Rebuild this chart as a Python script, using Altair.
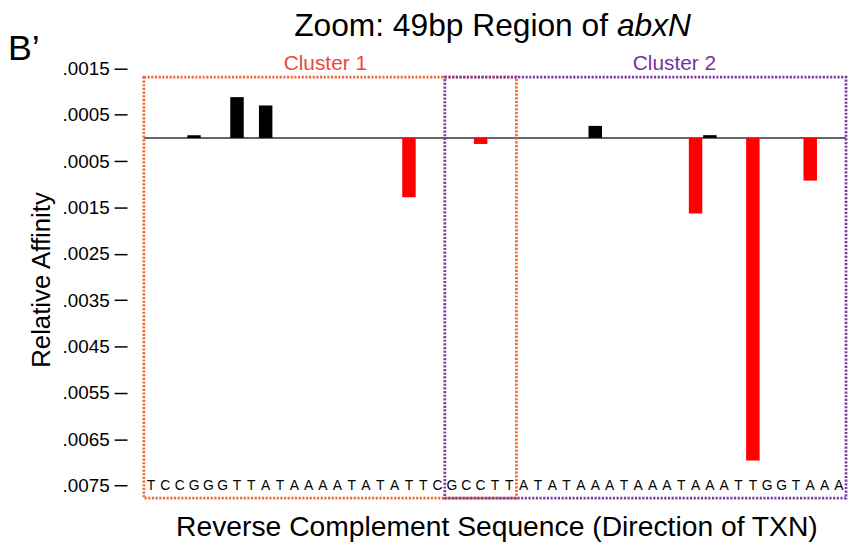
import altair as alt
import numpy as np
import pandas as pd

# ---------------- data ----------------
sequence = list("TCCGGGTTATAAAATATATTCGCCTTATATAAATAAATAAATTGGTAAA")
bar_index = [3, 6, 8, 18, 23, 31, 38, 39, 42, 46]
bar_value = [0.00006, 0.00088, 0.00070, -0.00128, -0.00013,
             0.00026, -0.00163, 0.00006, -0.00696, -0.00092]
cluster_names = ["Cluster 1", "Cluster 2"]
cluster_start = [0, 21]
cluster_end = [26, 49]
cluster_colors = ["#F26B3A", "#7B3FA0"]
cluster_text_colors = ["#F0463A", "#7434A0"]
y_ticks = [0.0015, 0.0005, -0.0005, -0.0015, -0.0025, -0.0035,
           -0.0045, -0.0055, -0.0065, -0.0075]

FONT = "Liberation Sans"
W, H = 708, 438
BOX_TOP = 0.00131

xscale = alt.Scale(domain=[0, len(sequence)], nice=False, zero=False)
yscale = alt.Scale(domain=[-0.00777, 0.0016], nice=False, zero=False)

# ---------------- bars ----------------
bars_df = pd.DataFrame({"pos": bar_index, "value": bar_value})
bars_df["x0"] = bars_df["pos"] + 0.03
bars_df["x1"] = bars_df["pos"] + 0.97
bars_df["zero"] = 0.0
bars_df["color"] = np.where(bars_df["value"] >= 0, "#000000", "#FF0000")

bars = alt.Chart(bars_df).mark_rect().encode(
    x=alt.X("x0:Q", scale=xscale, axis=None),
    x2="x1:Q",
    y=alt.Y(
        "value:Q",
        scale=yscale,
        axis=alt.Axis(
            values=y_ticks,
            labelExpr="substring(format(abs(datum.value), '.4f'), 1)",
            grid=False,
            domain=False,
            tickSize=13,
            tickWidth=1.5,
            tickColor="black",
            offset=17,
            labelPadding=5,
            labelFontSize=19,
            labelFont=FONT,
            labelColor="black",
            title=None,
        ),
    ),
    y2="zero:Q",
    color=alt.Color("color:N", scale=None),
)

# ---------------- zero line ----------------
zero_line = alt.Chart(pd.DataFrame({"z": [0.0]})).mark_rule(
    color="#333333", strokeWidth=1.5
).encode(y=alt.Y("z:Q", scale=yscale))

# ---------------- sequence letters ----------------
letters_df = pd.DataFrame({"letter": sequence})
letters_df["xc"] = np.arange(len(sequence)) + 0.5
letters_df["yl"] = -0.0075
letters = alt.Chart(letters_df).mark_text(
    font=FONT, fontSize=14, color="black", baseline="middle", align="center"
).encode(
    x=alt.X("xc:Q", scale=xscale, axis=None),
    y=alt.Y("yl:Q", scale=yscale),
    text="letter:N",
)

# ---------------- cluster boxes ----------------
def cluster_box(i):
    df = pd.DataFrame({"start": [cluster_start[i]], "end": [cluster_end[i]],
                       "top": [BOX_TOP]})
    return alt.Chart(df).mark_rect(
        fill="transparent",
        stroke=cluster_colors[i],
        strokeWidth=2.8,
        strokeDash=[2.2, 1.5],
    ).encode(
        x=alt.X("start:Q", scale=xscale, axis=None),
        x2="end:Q",
        y=alt.Y("top:Q", scale=yscale),
        y2=alt.value(H),
    )


def label(txt, x, y, size, color="black", align="center", style="normal",
          angle=0, baseline="alphabetic"):
    return alt.Chart(pd.DataFrame({"t": [txt]})).mark_text(
        font=FONT, fontSize=size, color=color, align=align, fontStyle=style,
        angle=angle, baseline=baseline,
    ).encode(text="t:N", x=alt.value(x), y=alt.value(y))


annotations = [
    label(cluster_names[0], 183, 6, 21, cluster_text_colors[0]),
    label(cluster_names[1], 535, 6, 21, cluster_text_colors[1]),
    label("Zoom: 49bp Region of", 468, -28, 32, align="right"),
    label("abxN", 477, -28, 32, align="left", style="italic"),
    label("B\u2019", -137, -4, 36, align="left"),
    label("Relative Affinity", -103, 218, 26, angle=270, baseline="middle"),
    label("Reverse Complement Sequence (Direction of TXN)", 356, 476, 28.5),
]

chart = alt.layer(
    zero_line, bars, letters, cluster_box(0), cluster_box(1), *annotations
).properties(
    width=W,
    height=H,
    padding={"left": 137, "top": 54, "right": 3, "bottom": 42},
    autosize=alt.AutoSizeParams(type="none"),
    background="white",
).configure_view(stroke=None)

chart.save("out.html", embed_options={"renderer": "svg", "actions": False})
